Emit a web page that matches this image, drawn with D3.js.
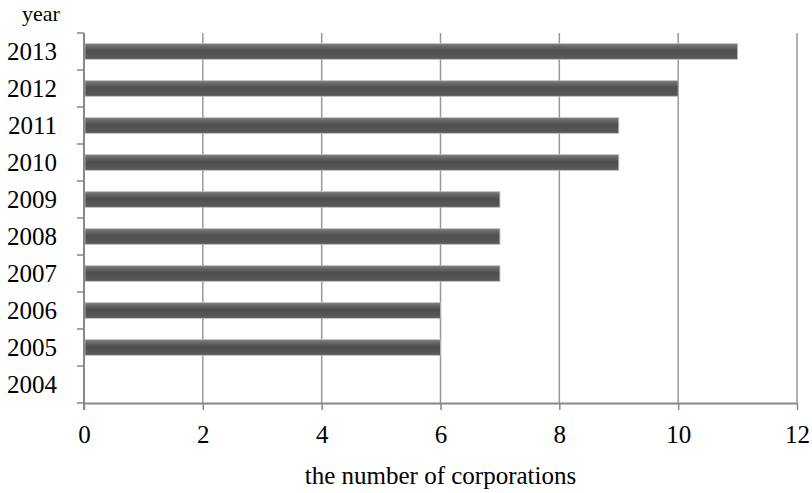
<!DOCTYPE html>
<html>
<head>
<meta charset="utf-8">
<script src="https://cdn.jsdelivr.net/npm/d3@7"></script>
<style>
  body { margin: 0; background: #fff; }
  text { font-family: "Liberation Serif", "DejaVu Serif", serif; fill: #000; }
</style>
</head>
<body>
<div id="chart"></div>
<script>
// data
const years = ["2013", "2012", "2011", "2010", "2009", "2008", "2007", "2006", "2005", "2004"];
const counts = [11, 10, 9, 9, 7, 7, 7, 6, 6, 0];
const xTicks = [0, 2, 4, 6, 8, 10, 12];

const W = 812, H = 493;
const margin = { top: 33, right: 15, bottom: 90, left: 84 };
const width = W - margin.left - margin.right;
const height = H - margin.top - margin.bottom;

const svg = d3.select("#chart").append("svg")
    .attr("width", W)
    .attr("height", H);

// bar gradient (light edge, dark middle)
const grad = svg.append("defs").append("linearGradient")
    .attr("id", "barGrad")
    .attr("x1", 0).attr("y1", 0).attr("x2", 0).attr("y2", 1);
grad.append("stop").attr("offset", "0%").attr("stop-color", "#7a7a7a");
grad.append("stop").attr("offset", "45%").attr("stop-color", "#4e4e4e");
grad.append("stop").attr("offset", "100%").attr("stop-color", "#5a5a5a");

const g = svg.append("g")
    .attr("transform", `translate(${margin.left},${margin.top})`);

const x = d3.scaleLinear().domain([0, 12]).range([0, width]);
const y = d3.scaleBand().domain(years).range([0, height]).paddingInner(0.58).paddingOuter(0.29);
const yb = d3.scaleBand().domain(years).range([0, height]);

// vertical gridlines
g.append("g")
    .selectAll("line")
    .data(xTicks.slice(1))
    .join("line")
    .attr("x1", d => x(d)).attr("x2", d => x(d))
    .attr("y1", 0).attr("y2", height)
    .attr("stroke", "#999")
    .attr("stroke-width", 1.5);

// bars
g.append("g")
    .selectAll("rect")
    .data(years.map((yr, i) => ({ yr, v: counts[i] })).filter(d => d.v > 0))
    .join("rect")
    .attr("x", 1)
    .attr("y", d => y(d.yr))
    .attr("width", d => x(d.v) - 1)
    .attr("height", y.bandwidth())
    .attr("fill", "url(#barGrad)")
    .attr("stroke", "#bbb")
    .attr("stroke-width", 0.8);

// x axis
const xAxis = g.append("g")
    .attr("transform", `translate(0,${height})`)
    .call(d3.axisBottom(x).tickValues(xTicks).tickSize(7).tickPadding(15).tickSizeOuter(0));
xAxis.select(".domain").attr("stroke", "#888").attr("stroke-width", 2);
xAxis.selectAll(".tick line").attr("stroke", "#888").attr("stroke-width", 1.5);
xAxis.selectAll("text").attr("font-size", 25).attr("fill", "#000")
    .style("font-family", "'Liberation Serif', 'DejaVu Serif', serif");

// y axis: ticks sit on band boundaries
const yAxis = g.append("g");
yAxis.append("line")
    .attr("x1", 0).attr("x2", 0)
    .attr("y1", 0).attr("y2", height + 7)
    .attr("stroke", "#888").attr("stroke-width", 2);
yAxis.selectAll("line.tk")
    .data(years)
    .join("line")
    .attr("class", "tk")
    .attr("x1", -7).attr("x2", 0)
    .attr("y1", d => yb(d)).attr("y2", d => yb(d))
    .attr("stroke", "#888").attr("stroke-width", 1.5);
yAxis.append("line")
    .attr("x1", -7).attr("x2", 0)
    .attr("y1", height).attr("y2", height)
    .attr("stroke", "#888").attr("stroke-width", 1.5);
yAxis.selectAll("text")
    .data(years)
    .join("text")
    .attr("x", -27)
    .attr("y", d => yb(d) + yb.bandwidth() / 2)
    .attr("dy", "0.35em")
    .attr("text-anchor", "end")
    .attr("font-size", 25)
    .text(d => d);

// axis titles
svg.append("text")
    .attr("x", 41).attr("y", 21)
    .attr("text-anchor", "middle")
    .attr("font-size", 22)
    .text("year");

svg.append("text")
    .attr("x", margin.left + width / 2).attr("y", 484)
    .attr("text-anchor", "middle")
    .attr("font-size", 25)
    .text("the number of corporations");
</script>
</body>
</html>
